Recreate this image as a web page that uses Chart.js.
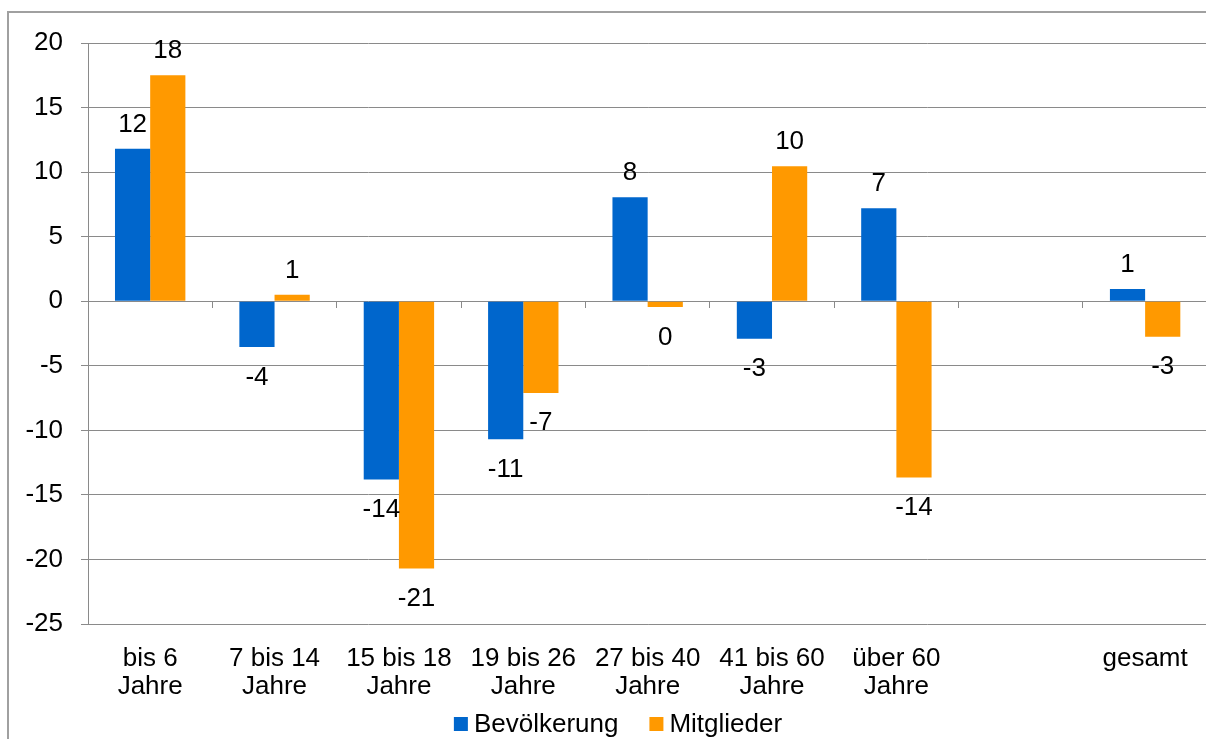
<!DOCTYPE html>
<html>
<head>
<meta charset="utf-8">
<script src="https://cdn.jsdelivr.net/npm/chart.js@4/dist/chart.umd.min.js"></script>
<style>
  html, body { margin: 0; padding: 0; background: #fff; }
  body { width: 1206px; height: 739px; overflow: hidden; position: relative; }
  #frame { position: absolute; left: 7px; top: 11px; width: 1300px; height: 800px;
           border-left: 2px solid #a0a0a0; border-top: 2px solid #a0a0a0; pointer-events: none; }
  canvas { position: absolute; left: 0; top: 0; }
</style>
</head>
<body>
<canvas id="chart" width="1209" height="739"></canvas>
<div id="frame"></div>
<script>
// Veränderung in Prozent nach Altersgruppe
const categories = [
  ['bis 6', 'Jahre'], ['7 bis 14', 'Jahre'], ['15 bis 18', 'Jahre'],
  ['19 bis 26', 'Jahre'], ['27 bis 40', 'Jahre'], ['41 bis 60', 'Jahre'],
  ['über 60', 'Jahre'], '', 'gesamt'
];
const bevoelkerung = [11.8, -3.55, -13.8, -10.7, 8.05, -2.9, 7.2, null, 0.94];
const mitglieder   = [17.5, 0.5, -20.7, -7.1, -0.45, 10.45, -13.65, null, -2.75];
const yTicks = { min: -25, max: 20, step: 5 };

const FONT = 'Liberation Sans, Arial, sans-serif';
const FONT_SIZE = 26;
const GRID = '#8a8a8a';

// Rounded value labels placed beyond the end of each bar
const valueLabels = {
  id: 'valueLabels',
  afterDatasetsDraw(chart) {
    const ctx = chart.ctx;
    ctx.save();
    ctx.font = FONT_SIZE + 'px ' + FONT;
    ctx.fillStyle = '#000';
    ctx.textAlign = 'center';
    ctx.textBaseline = 'alphabetic';
    chart.data.datasets.forEach((ds, di) => {
      const meta = chart.getDatasetMeta(di);
      meta.data.forEach((bar, i) => {
        const v = ds.data[i];
        if (v === null || v === undefined) return;
        const r = Math.round(v);
        const txt = String(r === 0 ? 0 : r);
        const y = v >= 0 ? bar.y - 17 : bar.y + 37.5;
        ctx.fillText(txt, bar.x, y);
      });
    });
    ctx.restore();
  }
};

// Legend row below the category labels, built from the datasets
const bottomLegend = {
  id: 'bottomLegend',
  afterDraw(chart) {
    const ctx = chart.ctx;
    const box = 14, gapText = 6, gapItem = 31;
    const centerX = 618, baseY = 731.5, boxTop = 717;
    ctx.save();
    ctx.font = FONT_SIZE + 'px ' + FONT;
    ctx.textBaseline = 'alphabetic';
    ctx.textAlign = 'left';
    const items = chart.data.datasets.map(ds => ({
      text: ds.label, color: ds.backgroundColor, w: ctx.measureText(ds.label).width
    }));
    const total = items.reduce((s, it) => s + box + gapText + it.w, 0) + gapItem * (items.length - 1);
    let x = centerX - total / 2;
    items.forEach(it => {
      ctx.fillStyle = it.color;
      ctx.fillRect(x, boxTop, box, box);
      ctx.fillStyle = '#000';
      ctx.fillText(it.text, x + box + gapText, baseY);
      x += box + gapText + it.w + gapItem;
    });
    ctx.restore();
  }
};

new Chart(document.getElementById('chart'), {
  type: 'bar',
  data: {
    labels: categories,
    datasets: [
      { label: 'Bevölkerung', data: bevoelkerung, backgroundColor: '#0066CC' },
      { label: 'Mitglieder', data: mitglieder, backgroundColor: '#FF9900' }
    ]
  },
  options: {
    responsive: false,
    animation: false,
    devicePixelRatio: 1,
    layout: { padding: { left: 26, top: 43, right: 0, bottom: 0 } },
    datasets: { bar: { categoryPercentage: 0.566, barPercentage: 1.0 } },
    plugins: {
      legend: { display: false },
      tooltip: { enabled: false }
    },
    scales: {
      x: {
        type: 'category',
        offset: true,
        grid: { display: false, drawTicks: false },
        border: { display: false },
        ticks: {
          autoSkip: false, maxRotation: 0, padding: 21.25, color: '#000',
          font: { family: FONT, size: FONT_SIZE, lineHeight: 1.06 }
        },
        afterFit(s) { s.height = 115; }
      },
      x2: {
        type: 'category',
        position: { y: 0 },
        offset: true,
        grid: { offset: true, drawOnChartArea: false, drawTicks: true, tickLength: 7, color: GRID },
        border: { display: false },
        ticks: { display: false }
      },
      y: {
        min: yTicks.min, max: yTicks.max,
        grid: { color: GRID, tickLength: 7, lineWidth: 1 },
        border: { color: GRID, width: 1 },
        ticks: {
          stepSize: yTicks.step, padding: 18, color: '#000',
          font: { family: FONT, size: FONT_SIZE }
        },
        afterFit(s) { s.width = 62; }
      }
    }
  },
  plugins: [valueLabels, bottomLegend]
});
</script>
</body>
</html>
